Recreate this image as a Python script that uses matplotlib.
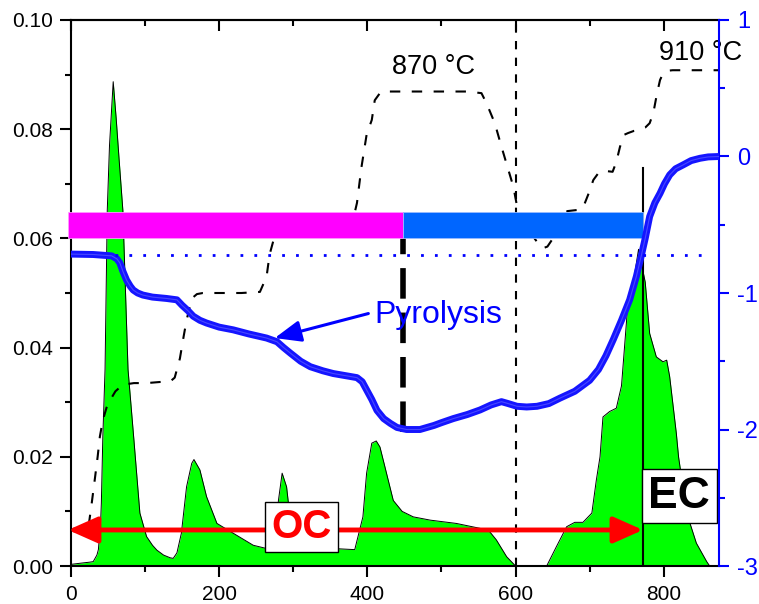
import matplotlib.pyplot as plt
from matplotlib.ticker import MultipleLocator
from matplotlib.patches import FancyArrowPatch

plt.rcParams['font.family'] = ['Liberation Sans', 'DejaVu Sans']
plt.rcParams['axes.unicode_minus'] = False

# FID signal (left axis)
fid_x = [0, 12, 25, 30, 35, 37, 40, 41, 43, 46, 49, 52, 57, 61, 65, 70, 77, 85, 93,
         102, 110, 116, 125, 134, 138, 143, 149, 156, 163, 166, 174, 183, 197, 219,
         246, 264, 276, 280, 285, 291, 298, 309, 354, 383, 394, 399, 406, 412, 417,
         424, 435, 447, 462, 485, 520, 552, 565, 574, 588, 600, 642, 655, 669, 680,
         691, 703, 709, 714, 718, 727, 736, 743, 752, 759, 766, 775, 781, 790, 799,
         804, 808, 817, 820, 831, 844, 858, 862]
fid_y = [0.0003, 0.0005, 0.0007, 0.0008, 0.002, 0.003, 0.008, 0.0115, 0.0237, 0.036,
         0.0652, 0.077, 0.0887, 0.082, 0.0744, 0.0652, 0.036, 0.023, 0.0097, 0.0054,
         0.0038, 0.0029, 0.002, 0.0015, 0.0014, 0.0024, 0.006, 0.0145, 0.0188, 0.0195,
         0.0176, 0.0127, 0.0078, 0.006, 0.0038, 0.0032, 0.0045, 0.012, 0.017, 0.0145,
         0.006, 0.0035, 0.0032, 0.003, 0.009, 0.017, 0.0225, 0.0229, 0.0218, 0.018,
         0.012, 0.010, 0.009, 0.0084, 0.0078, 0.0069, 0.0063, 0.0048, 0.0017, 0.0,
         0.0, 0.0035, 0.0072, 0.008, 0.008, 0.0097, 0.0157, 0.020, 0.0273, 0.0283,
         0.0289, 0.033, 0.0487, 0.052, 0.058, 0.052, 0.0426, 0.0383, 0.0374, 0.0377,
         0.0347, 0.0243, 0.020, 0.0097, 0.0042, 0.0008, 0.0]

# oven temperature in degC, drawn on the left axis as T/10000
temp_x = [24, 28, 32, 36, 39, 43, 48, 53, 60, 70, 85, 102, 120, 134, 140, 147, 152,
          156, 163, 170, 178, 200, 230, 255, 264, 268, 273, 280, 300, 350, 380, 386,
          392, 399, 406, 410, 418, 430, 536, 554, 561, 572, 581, 597, 603, 614, 624,
          632, 637, 643, 649, 655, 660, 670, 683, 691, 698, 705, 712, 718, 731, 736,
          741, 747, 752, 760, 768, 775, 781, 786, 791, 795, 799, 805, 812, 875]
temp_c = [75, 115, 157, 200, 237, 267, 290, 304, 320, 332, 335, 335, 337, 338, 345,
          380, 420, 450, 490, 498, 500, 500, 500, 502, 530, 570, 595, 612, 615, 615,
          630, 665, 730, 790, 817, 853, 868, 869, 869, 866, 847, 811, 768, 695, 652,
          620, 603, 588, 582, 585, 597, 620, 640, 650, 652, 656, 680, 707, 720, 724,
          722, 740, 768, 790, 793, 797, 799, 803, 811, 830, 866, 890, 902, 907, 908, 908]

# laser transmittance (right axis)
laser_x = [0, 30, 55, 62, 66, 70, 75, 80, 84, 90, 97, 110, 129, 143, 150, 158, 165,
           174, 183, 200, 219, 240, 264, 278, 287, 296, 310, 323, 340, 354, 370, 386,
           393, 399, 406, 413, 422, 431, 440, 453, 471, 490, 500, 516, 535, 552, 567,
           581, 590, 602, 615, 629, 645, 660, 680, 700, 712, 722, 732, 743, 754, 763,
           770, 775, 781, 788, 795, 801, 808, 816, 826, 837, 849, 860, 875]
laser_y = [-0.715, -0.718, -0.728, -0.75, -0.78, -0.84, -0.905, -0.95, -0.978, -1.0,
           -1.015, -1.03, -1.04, -1.05, -1.09, -1.13, -1.17, -1.2, -1.22, -1.25, -1.27,
           -1.3, -1.33, -1.357, -1.40, -1.44, -1.50, -1.54, -1.57, -1.59, -1.605, -1.62,
           -1.65, -1.71, -1.78, -1.86, -1.92, -1.955, -1.985, -2.0, -2.0, -1.97, -1.95,
           -1.92, -1.89, -1.857, -1.82, -1.796, -1.81, -1.83, -1.835, -1.83, -1.81,
           -1.77, -1.72, -1.64, -1.56, -1.46, -1.34, -1.2, -1.05, -0.88, -0.72, -0.6,
           -0.44, -0.34, -0.27, -0.2, -0.135, -0.09, -0.062, -0.03, -0.013, -0.003, 0.0]

laser_init = -0.722
pyro_end = 448      # OC / pyrolysis split
oc_ec_split = 772   # laser back to initial value
step_change = 600   # start of He/O2 step
bar_level = 0.06245
bar_height = 0.0047

fig = plt.figure(figsize=(7.59, 6.04), dpi=100)
ax = fig.add_axes([0.0935, 0.0629, 0.8542, 0.904])
ax.set_xlim(0, 875)
ax.set_ylim(0, 0.10)

# FID area
ax.fill_between(fid_x, fid_y, 0, color='#00ff00', lw=0, zorder=2)
ax.plot(fid_x, fid_y, color='black', lw=0.7, zorder=2.1)

# temperature profile
ax.plot(temp_x, [t / 10000 for t in temp_c], color='black', lw=1.5,
        linestyle=(0, (5, 5.5)), zorder=3)

# He / He-O2 phase bar
ax.barh(bar_level, pyro_end + 4, left=-4, height=bar_height, color='#ff00ff',
        edgecolor='#ff99ff', lw=0.6, zorder=4, clip_on=False)
ax.barh(bar_level, oc_ec_split - pyro_end, left=pyro_end, height=bar_height,
        color='#0066ff', edgecolor='#99bbff', lw=0.6, zorder=4)

# vertical markers
ax.plot([step_change, step_change], [0, 0.10], color='black', lw=1.5,
        linestyle=(0, (4, 4)), zorder=3)
ax.plot([pyro_end, pyro_end], [0.0245, bar_level - bar_height / 2], color='black',
        lw=4, linestyle=(0, (5.5, 2.5)), zorder=3)
ax.plot([oc_ec_split, oc_ec_split], [0, 0.0729], color='black', lw=1.5, zorder=3)

# OC span arrow
ax.add_patch(FancyArrowPatch((-4, 0.0066), (oc_ec_split, 0.0066),
                             arrowstyle='<|-|>,head_length=18,head_width=8',
                             mutation_scale=1, lw=3.5, color='red', shrinkA=0,
                             shrinkB=0, zorder=5, clip_on=False))

box = dict(boxstyle='square,pad=0.15', fc='white', ec='black', lw=1)
ax.text(311, 0.0071, 'OC', color='red', fontsize=29, fontweight='bold',
        ha='center', va='center', bbox=box, zorder=6)
ax.text(821, 0.0128, 'EC', color='black', fontsize=32, fontweight='bold',
        ha='center', va='center', bbox=box, zorder=6)

ax.text(433, 0.0902, '870 \u00b0C', fontsize=19.5, ha='left', va='baseline')
ax.text(793, 0.0927, '910 \u00b0C', fontsize=19.5, ha='left', va='baseline')

# axes styling
for s in ['left', 'bottom', 'top']:
    ax.spines[s].set_linewidth(1.5)
ax.spines['right'].set_visible(False)
ax.set_xticks(range(0, 801, 200))
ax.xaxis.set_minor_locator(MultipleLocator(100))
ax.set_yticks([0, 0.02, 0.04, 0.06, 0.08, 0.10])
ax.set_yticklabels(['0.00', '0.02', '0.04', '0.06', '0.08', '0.10'])
ax.yaxis.set_minor_locator(MultipleLocator(0.01))
ax.tick_params(which='major', direction='out', length=8, width=1.5, labelsize=15, pad=5)
ax.tick_params(which='minor', direction='out', length=4.5, width=1.5)
ax.tick_params(axis='x', which='major', pad=6)

top = ax.secondary_xaxis('top')
top.set_xticks(range(0, 801, 200))
top.xaxis.set_minor_locator(MultipleLocator(100))
top.tick_params(which='major', direction='in', length=8, width=1.5, labeltop=False)
top.tick_params(which='minor', direction='in', length=4, width=1.5)
top.spines['top'].set_linewidth(1.5)

# right axis: laser signal
ax2 = ax.twinx()
ax2.set_ylim(-3, 1)
ax2.plot(laser_x, laser_y, color='#1515ff', lw=5, solid_capstyle='round', zorder=3)
ax2.plot(laser_x, laser_y, color='#6a6aff', lw=0.8, alpha=0.6, zorder=3.1)
ax2.plot([59, 862], [laser_init, laser_init], color='#0000ff', lw=2,
         linestyle=(0, (1, 4)), zorder=3)
for s in ['left', 'top', 'bottom']:
    ax2.spines[s].set_visible(False)
ax2.spines['right'].set_color('#0000ff')
ax2.spines['right'].set_linewidth(1.5)
ax2.set_yticks([-3, -2, -1, 0, 1])
ax2.yaxis.set_minor_locator(MultipleLocator(0.5))
ax2.tick_params(which='major', colors='#0000ff', direction='out', length=7,
                width=1.5, labelsize=17, pad=6)
ax2.tick_params(which='minor', colors='#0000ff', direction='out', length=4.5, width=1.5)

# pyrolysis label
ax2.annotate('Pyrolysis', xy=(275, -1.33), xytext=(410, -1.22), color='#0000ff',
             fontsize=23, ha='left', va='baseline',
             arrowprops=dict(arrowstyle='-|>,head_length=16,head_width=6.5',
                             mutation_scale=1, lw=2.2, color='#0000ff',
                             shrinkA=0, shrinkB=0,
                             relpos=(-0.05, 0.55)))

fig.savefig('out.png', dpi=100)
